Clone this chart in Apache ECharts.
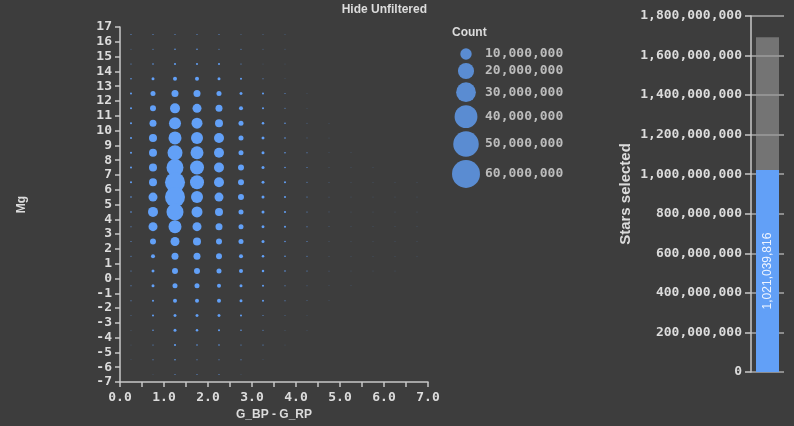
<!DOCTYPE html>
<html>
<head>
<meta charset="utf-8">
<script src="https://cdn.jsdelivr.net/npm/echarts@6/dist/echarts.min.js"></script>
<style>
html,body{margin:0;padding:0;background:#3d3d3d;}
#chart{width:794px;height:426px;}
</style>
</head>
<body>
<div id="chart"></div>
<script>
// ---- data ----
// colour bin centres (G_BP - G_RP)
var xBins = [0.25, 0.75, 1.25, 1.75, 2.25, 2.75, 3.25, 3.75, 4.25, 4.75, 5.25, 5.75, 6.25, 6.75];
// magnitude bin centres (Mg), top to bottom
var yBins = [16.5, 15.5, 14.5, 13.5, 12.5, 11.5, 10.5, 9.5, 8.5, 7.5, 6.5, 5.5, 4.5, 3.5, 2.5, 1.5, 0.5, -0.5, -1.5, -2.5, -3.5, -4.5, -5.5, -6.5];
// star counts per bin, in millions, one array per colour column (rows follow yBins)
var col0_25 = [0.08,0.05,0.08,0.17,0.31,0.31,0.31,0.31,0.31,0.31,0.31,0.17,0.17,0.08,0.08,0.08,0.08,0.08,0.08,0.05,0.03,0.02,0.02,0];
var col0_75 = [0.08,0.08,0.17,0.69,1.92,2.76,3.76,4.91,4.91,4.91,4.91,6.22,7.67,6.22,2.76,1.23,0.69,0.69,0.31,0.31,0.17,0.08,0.08,0.02];
var col1_25 = [0.08,0.17,0.31,1.23,3.76,7.67,11.05,12.97,17.27,22.18,30.70,30.70,22.18,12.97,6.22,3.76,2.76,1.92,1.23,0.69,0.69,0.31,0.17,0.08];
var col1_75 = [0.08,0.17,0.31,1.23,3.76,6.22,9.29,11.05,12.97,15.04,15.04,11.05,9.29,6.22,4.91,3.76,2.76,1.92,1.23,0.69,0.48,0.17,0.08,0.08];
var col2_25 = [0.08,0.08,0.31,0.69,1.92,3.76,4.91,7.67,7.67,7.67,7.67,6.22,4.91,3.76,2.76,2.76,1.92,1.23,1.23,0.69,0.31,0.17,0.08,0.08];
var col2_75 = [0.05,0.08,0.08,0.31,0.69,1.23,1.92,1.92,1.92,2.76,2.76,2.76,1.92,1.92,1.92,1.23,1.23,0.69,0.69,0.31,0.17,0.08,0.08,0.02];
var col3_25 = [0.05,0.05,0.02,0.08,0.31,0.31,0.48,0.69,0.69,0.69,0.69,0.69,0.69,0.69,0.69,0.48,0.48,0.31,0.31,0.08,0.08,0.08,0.02,0];
var col3_75 = [0.03,0.03,0.02,0.02,0.08,0.08,0.17,0.17,0.17,0.17,0.31,0.31,0.31,0.31,0.17,0.17,0.17,0.08,0.08,0.05,0.03,0.02,0,0];
var col4_25 = [0,0,0,0,0.02,0.02,0.05,0.05,0.08,0.08,0.08,0.08,0.08,0.08,0.08,0.08,0.08,0.05,0.05,0.02,0.02,0,0,0];
var col4_75 = [0,0,0,0,0,0,0.02,0.02,0.02,0.03,0.03,0.03,0.03,0.03,0.03,0.03,0.03,0.02,0.02,0,0,0,0,0];
var col5_25 = [0,0,0,0,0,0,0,0,0.02,0.02,0.02,0.02,0.02,0.02,0.02,0.02,0.02,0.02,0,0,0,0,0,0];
var col5_75 = [0,0,0,0,0,0,0,0,0,0.02,0.02,0.02,0.02,0.02,0.02,0.02,0.02,0,0,0,0,0,0,0];
var col6_25 = [0,0,0,0,0,0,0,0,0,0,0.02,0.02,0.02,0.02,0.02,0.02,0.02,0,0,0,0,0,0,0];
var col6_75 = [0,0,0,0,0,0,0,0,0,0,0.02,0.02,0.02,0.02,0.02,0.02,0,0,0,0,0,0,0,0];
var columns = [col0_25,col0_75,col1_25,col1_75,col2_25,col2_75,col3_25,col3_75,col4_25,col4_75,col5_25,col5_75,col6_25,col6_75];

// size legend values
var legendCounts = [10000000, 20000000, 30000000, 40000000, 50000000, 60000000];

// stars bar
var starsTotal = 1692919135;
var starsSelected = 1021039816;

// ---- build ----
var BLUE = '#62a0f7';
var TXT = '#dcdcdc';
var AX = '#c8c8c8';
var MONO = 'DejaVu Sans Mono';
var SANS = 'Liberation Sans';

function dia(v){ return 3.61 * Math.sqrt(v / 1e6); }
function fmt(n){ return Math.round(n).toLocaleString('en-US'); }

var scatterData = [];
for (var i = 0; i < xBins.length; i++) {
  for (var j = 0; j < yBins.length; j++) {
    var c = columns[i][j];
    if (c > 0) scatterData.push([xBins[i], yBins[j], c * 1e6]);
  }
}

// legend layout: stack circles by their own diameters
var legendY = [];
var acc = 0, gap = 3.2;
for (var k = 0; k < legendCounts.length; k++) {
  if (k > 0) acc += dia(legendCounts[k-1]) / 2 + dia(legendCounts[k]) / 2 + gap;
  legendY.push(acc);
}
var legendCircles = legendCounts.map(function(v, k){ return [26, legendY[k], v]; });
var legendTexts = legendCounts.map(function(v, k){ return [45, legendY[k], v]; });

var chart = echarts.init(document.getElementById('chart'));
var axisLabelMono = { color: TXT, fontFamily: MONO, fontSize: 13, fontWeight: 'bold' };

chart.setOption({
  backgroundColor: '#3d3d3d',
  animation: false,
  grid: [
    { left: 120, right: 366, top: 27, bottom: 43 },
    { left: 751, right: 10, top: 16, bottom: 54 },
    { left: 440, top: 54, width: 100, height: 130 }
  ],
  xAxis: [
    { type: 'value', gridIndex: 0, min: 0, max: 7, interval: 1,
      axisLine: { onZero: false, lineStyle: { color: AX, width: 1.5 } },
      axisTick: { show: true, length: 5, lineStyle: { color: AX, width: 1.5 } },
      minorTick: { show: true, splitNumber: 2, length: 5, lineStyle: { color: AX, width: 1.5 } },
      splitLine: { show: false },
      axisLabel: Object.assign({ margin: 9, formatter: function(v){ return v.toFixed(1); } }, axisLabelMono),
      name: 'G_BP - G_RP', nameLocation: 'middle', nameGap: 27,
      nameTextStyle: { color: TXT, fontFamily: SANS, fontWeight: 'bold', fontSize: 12 } },
    { type: 'category', gridIndex: 1, data: ['Stars'], show: false },
    { type: 'value', gridIndex: 2, min: 0, max: 100, show: false }
  ],
  yAxis: [
    { type: 'value', gridIndex: 0, min: -7, max: 17, interval: 1,
      axisLine: { show: true, onZero: false, lineStyle: { color: AX, width: 1.5 } },
      axisTick: { show: true, length: 5, lineStyle: { color: AX, width: 1.5 } },
      splitLine: { show: false },
      axisLabel: Object.assign({ margin: 8 }, axisLabelMono),
      name: 'Mg', nameLocation: 'middle', nameGap: 92, nameRotate: 90,
      nameTextStyle: { color: TXT, fontFamily: SANS, fontWeight: 'bold', fontSize: 12 } },
    { type: 'value', gridIndex: 1, min: 0, max: 1800000000, interval: 200000000,
      axisLine: { show: true, lineStyle: { color: AX, width: 1.5 } },
      axisTick: { show: true, length: 6, lineStyle: { color: AX, width: 1.5 } },
      splitLine: { show: true, lineStyle: { color: '#a8a8a8', width: 1.5 } },
      axisLabel: Object.assign({ margin: 9, formatter: function(v){ return fmt(v); } }, axisLabelMono),
      name: 'Stars selected', nameLocation: 'middle', nameGap: 118, nameRotate: 90,
      nameTextStyle: { color: TXT, fontFamily: SANS, fontWeight: 'bold', fontSize: 15 } },
    { type: 'value', gridIndex: 2, min: 0, max: 130, inverse: true, show: false }
  ],
  series: [
    { type: 'scatter', xAxisIndex: 0, yAxisIndex: 0, data: scatterData,
      symbolSize: function(d){ return dia(d[2]); },
      itemStyle: { color: BLUE, opacity: 1 } },
    { type: 'bar', xAxisIndex: 1, yAxisIndex: 1, data: [starsTotal], barWidth: 23,
      barGap: '-100%', itemStyle: { color: 'rgba(150,150,150,0.62)' }, z: 2 },
    { type: 'bar', xAxisIndex: 1, yAxisIndex: 1, data: [starsSelected], barWidth: 23,
      barGap: '-100%', itemStyle: { color: BLUE }, z: 3,
      label: { show: true, position: 'inside', rotate: 90, color: '#eef4ff',
        fontFamily: SANS, fontSize: 12, formatter: function(p){ return fmt(p.value); } } },
    { type: 'scatter', xAxisIndex: 2, yAxisIndex: 2, data: legendCircles,
      symbolSize: function(d){ return dia(d[2]); }, itemStyle: { color: BLUE } },
    { type: 'scatter', xAxisIndex: 2, yAxisIndex: 2, data: legendTexts, symbolSize: 0,
      label: { show: true, position: 'right', distance: 0, color: TXT, fontFamily: MONO,
        fontSize: 13, fontWeight: 'bold', formatter: function(p){ return fmt(p.value[2]); } } }
  ],
  graphic: [
    { type: 'text', right: 367, top: 4, style: { text: 'Hide Unfiltered', fill: TXT,
      font: 'bold 12px "Liberation Sans"' } },
    { type: 'text', left: 452, top: 27, style: { text: 'Count', fill: TXT,
      font: 'bold 12px "Liberation Sans"' } }
  ]
});
</script>
</body>
</html>
